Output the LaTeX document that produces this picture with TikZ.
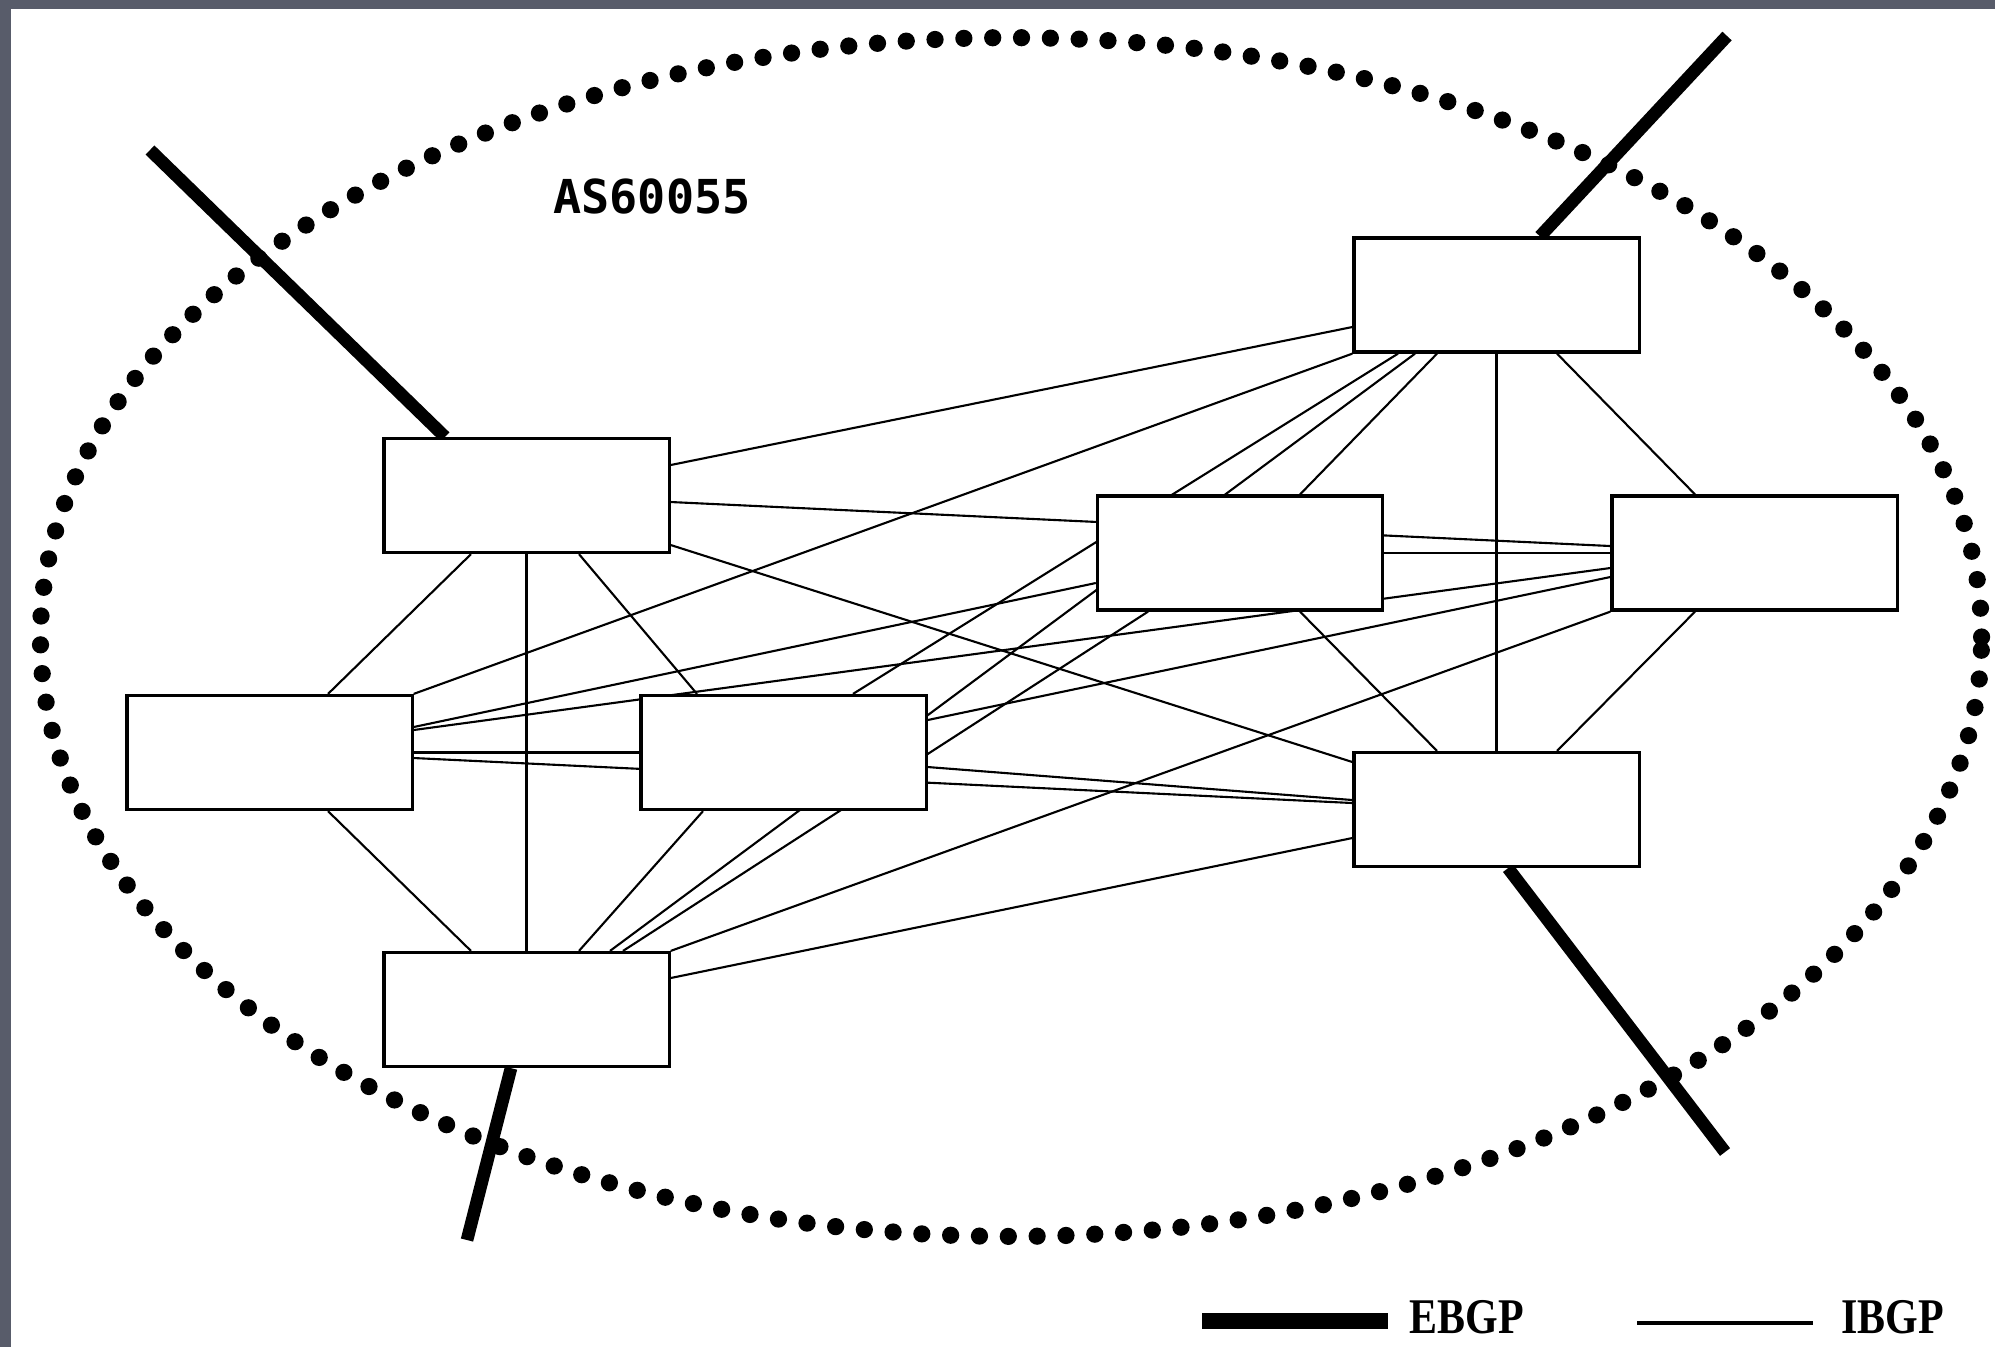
\documentclass[tikz,border=0pt]{standalone}
\usepackage{fontspec}
\usepackage{tikz}
\usetikzlibrary{calc}
\newfontfamily\asfont{DejaVu Sans Mono}
\newfontfamily\legendfont{Liberation Serif}
\definecolor{framegray}{RGB}{88,92,106}
\pgfdeclarelayer{lines}
\pgfsetlayers{lines,main}

\begin{document}
\begin{tikzpicture}[x=0.01cm,y=-0.01cm,
		router/.style={draw,fill=white,line width=0.9pt,minimum width=2.85cm,minimum height=1.14cm,inner sep=0pt},
		ibgp/.style={line width=0.6pt},
		ebgp/.style={line width=3.6pt},
		legendtext/.style={font=\legendfont\bfseries\fontsize{14.2}{16}\selectfont,xscale=0.84,inner sep=0pt,anchor=west}]
		\useasboundingbox (0,0) rectangle (1995,1347);
		% Draw routers
		\node[router] (r1) at (526.5,495.5) {};
		\node[router] (r2) at (269.5,752.5) {};
		\node[router] (r3) at (783.5,752.5) {};
		\node[router] (r4) at (526.5,1009.5) {};
		\node[router] (r5) at (1496.5,295) {};
		\node[router] (r6) at (1240,553) {};
		\node[router] (r7) at (1754.5,553) {};
		\node[router] (r8) at (1496.5,809.5) {};
		\node[font=\asfont\bfseries\fontsize{13.3}{15}\selectfont,inner sep=0pt] (asname) at (652,196) {AS60055};
		\begin{pgfonlayer}{lines}
		\fill[framegray] (0,0) rectangle (1995,1347);
		\fill[white] (11,9) rectangle (1995,1347);
		% AS border
		\draw[line width=4.9pt,line cap=round,dash pattern=on 0pt off 8.2pt] (1011,637) ellipse [x radius=9.70cm,y radius=5.99cm];
		% IBGP, left group
		\draw[ibgp] ($(r1.south)+(-55.5,0)$) -- ($(r2.north)+(58.5,0)$);
		\draw[ibgp] (r1.south) -- (r4.north);
		\draw[ibgp] ($(r1.south)+(52.5,0)$) -- ($(r3.north)+(-86.5,0)$);
		\draw[ibgp] ($(r2.south)+(58.5,0)$) -- ($(r4.north)+(-55.5,0)$);
		\draw[ibgp] ($(r3.south)+(-80.5,0)$) -- ($(r4.north)+(52.5,0)$);
		\draw[ibgp] (r2.east) -- (r3.west);
		% IBGP, right group
		\draw[ibgp] ($(r5.south)+(-59.5,0)$) -- ($(r6.north)+(60,0)$);
		\draw[ibgp] (r5.south) -- (r8.north);
		\draw[ibgp] ($(r5.south)+(60.5,0)$) -- ($(r7.north)+(-59.5,0)$);
		\draw[ibgp] ($(r6.south)+(60,0)$) -- ($(r8.north)+(-59.5,0)$);
		\draw[ibgp] ($(r7.south)+(-59.5,0)$) -- ($(r8.north)+(60.5,0)$);
		\draw[ibgp] (r6.east) -- (r7.west);
		% IBGP, between groups
		\draw[ibgp] ($(r1.east)+(0,-30.5)$) -- ($(r5.west)+(0,32)$);
		\draw[ibgp] ($(r1.east)+(0,6.5)$) -- ($(r7.west)+(0,-7)$);
		\draw[ibgp] ($(r1.east)+(0,49.5)$) -- ($(r8.west)+(0,-47.5)$);
		\draw[ibgp] (r2.north east) -- (r5.south west);
		\draw[ibgp] ($(r2.east)+(0,-25.5)$) -- ($(r6.west)+(0,30)$);
		\draw[ibgp] ($(r2.east)+(0,-22.5)$) -- ($(r7.west)+(0,15)$);
		\draw[ibgp] ($(r2.east)+(0,5.5)$) -- ($(r8.west)+(0,-6.5)$);
		\draw[ibgp] ($(r3.north)+(69.5,0)$) -- ($(r5.south)+(-98.5,0)$);
		\draw[ibgp] ($(r3.east)+(0,-32.5)$) -- ($(r7.west)+(0,24)$);
		\draw[ibgp] ($(r3.east)+(0,14.5)$) -- ($(r8.west)+(0,-9.5)$);
		\draw[ibgp] ($(r4.north)+(83.5,0)$) -- ($(r5.south)+(-81.5,0)$);
		\draw[ibgp] ($(r4.north)+(96.5,0)$) -- ($(r6.south)+(-92,0)$);
		\draw[ibgp] (r4.north east) -- (r7.south west);
		\draw[ibgp] ($(r4.east)+(0,-31.5)$) -- ($(r8.west)+(0,28.5)$);
		% EBGP peers
		\coordinate (peer1) at (150,150);
		\coordinate (peer2) at (1727,36);
		\coordinate (peer3) at (1725,1152);
		\coordinate (peer4) at (467,1240);
		\draw[ebgp] ($(r1.north)+(-81.5,0)$) -- (peer1);
		\draw[ebgp] ($(r5.north)+(43.5,0)$) -- (peer2);
		\draw[ebgp] ($(r8.south)+(11.5,0)$) -- (peer3);
		\draw[ebgp] ($(r4.south)+(-15.5,0)$) -- (peer4);
		\end{pgfonlayer}
		% Legend
		\coordinate (eb1) at (1202,1321);
		\coordinate (eb2) at (1388,1321);
		\coordinate (ib1) at (1637,1323);
		\coordinate (ib2) at (1813,1323);
		\draw[line width=4.5pt] (eb1) -- (eb2);
		\draw[line width=0.9pt] (ib1) -- (ib2);
		\node[legendtext] (ebgplabel) at (1409,1317) {EBGP};
		\node[legendtext] (ibgplabel) at (1841,1317) {IBGP};
	\end{tikzpicture}
\end{document}
